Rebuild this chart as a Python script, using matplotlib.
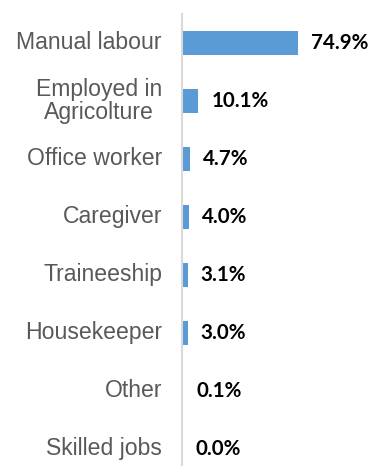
import matplotlib
matplotlib.use("Agg")
import matplotlib.pyplot as plt

categories = ["Manual labour", "Employed in\nAgricolture", "Office worker", "Caregiver",
              "Traineeship", "Housekeeper", "Other", "Skilled jobs"]
values = [74.9, 10.1, 4.7, 4.0, 3.1, 3.0, 0.1, 0.0]
value_labels = ["74.9%", "10.1%", "4.7%", "4.0%", "3.1%", "3.0%", "0.1%", "0.0%"]

W, H = 371, 466
fig = plt.figure(figsize=(W / 100, H / 100), dpi=100)
ax_left = 182 / W
ax = fig.add_axes([ax_left, 0, 1 - ax_left, 1 - 14 / H])

px_per_unit = 1.535
ax.set_xlim(0, (W - 182) / px_per_unit)
ypos = list(range(len(categories)))
ax.set_ylim(len(categories) - 1 + 17 / 58, -29 / 58)

ax.barh(ypos, values, height=24 / 58, color="#5b9bd5", left=0.6)

for y, v, lab in zip(ypos, values, value_labels):
    ax.annotate(lab, xy=(v + 0.6, y), xytext=(13, 0), textcoords="offset pixels",
                ha="left", va="center", fontsize=14.8, fontweight="bold",
                family=["Lato", "DejaVu Sans"], color="black")

for y, cat in zip(ypos, categories):
    ax.annotate(cat, xy=(0, y), xytext=(-20, 0), textcoords="offset pixels",
                ha="right", va="center", multialignment="center",
                fontsize=16.6, family=["Liberation Sans", "DejaVu Sans"],
                color="#595959", linespacing=1.0)

for s in ["top", "right", "bottom"]:
    ax.spines[s].set_visible(False)
ax.spines["left"].set_color("#d9d9d9")
ax.spines["left"].set_linewidth(1.5)
ax.set_xticks([])
ax.set_yticks([])
ax.patch.set_alpha(0)

fig.savefig("out.png", dpi=100)
